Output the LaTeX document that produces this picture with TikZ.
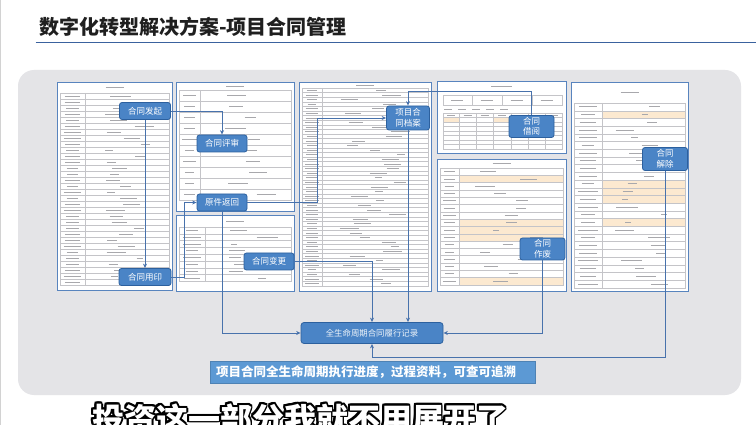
\documentclass[tikz,border=0pt]{standalone}
\usepackage{fontspec}
\usetikzlibrary{arrows.meta}
\newfontfamily\cjk{Noto Sans CJK SC}

\definecolor{panelgray}{RGB}{228,228,231}
\definecolor{formblue}{RGB}{88,132,190}
\definecolor{gridgray}{RGB}{196,196,200}
\definecolor{inkgray}{RGB}{168,168,172}
\definecolor{tagblue}{RGB}{74,132,198}
\definecolor{tagedge}{RGB}{44,96,158}
\definecolor{linkblue}{RGB}{72,114,172}
\definecolor{beige}{RGB}{252,233,208}
\definecolor{bannerblue}{RGB}{92,153,212}
\definecolor{ruleblue}{RGB}{58,98,158}

\tikzset{
  form/.style={draw=formblue, line width=0.9pt},
  grid/.style={draw=gridgray, line width=0.35pt},
  greek/.style={draw=inkgray, line width=0.75pt},
  tag/.style={draw=tagedge, fill=tagblue, line width=0.8pt, rounded corners=2.5pt,
    text=white, font=\cjk\fontsize{8.5}{10.5}\selectfont, inner sep=0pt, align=center},
  recbox/.style={draw=tagedge, fill=tagblue, line width=0.8pt, rounded corners=3pt,
    text=white!92!tagblue, font=\cjk\fontsize{8.4}{10}\selectfont, inner sep=0pt},
  link/.style={draw=linkblue, line width=0.85pt, -{Stealth[length=4.5pt,width=4pt]}},
  sub/.style={font=\cjk\bfseries\fontsize{32}{32}\selectfont, anchor=base west, inner sep=0pt},
}

% A paper form: frame, ruled table, label column and greeked entries.
% #1,#2 top left; #3,#4 bottom right; #5 first ruled line; #6 row height;
% #7 label column width; #8 extra cell fills
\newcommand\formsheet[8]{%
  \fill[white] (#1,#2) rectangle (#3,#4);
  #8
  \pgfmathtruncatemacro\nrows{floor((#4-3-(#5))/(#6))}
  \pgfmathsetmacro\tbot{#5+\nrows*#6}
  \draw[grid] ({#1+3},#5) rectangle ({#3-3},\tbot);
  \foreach \i in {1,...,\nrows}{\draw[grid] ({#1+3},{#5+\i*#6}) -- ({#3-3},{#5+\i*#6});}
  \draw[grid] ({#1+3+#7},#5) -- ({#1+3+#7},\tbot);
  \draw[greek] ({(#1+#3)/2-9},{(#2+#5)/2}) -- ({(#1+#3)/2+9},{(#2+#5)/2});
  \pgfmathtruncatemacro\nlast{\nrows-1}
  \foreach \i in {0,...,\nlast}{
    \pgfmathsetmacro\ym{#5+(\i+0.5)*#6}
    \pgfmathsetmacro\la{#7*(0.22+0.14*rnd)}
    \pgfmathsetmacro\lc{#1+3+#7/2}
    \draw[greek] ({\lc-\la},\ym) -- ({\lc+\la},\ym);
    \pgfmathsetmacro\va{3+8*rnd}
    \pgfmathsetmacro\vc{#1+3+#7+((#3-3)-(#1+3+#7))*(0.25+0.5*rnd)}
    \draw[greek] ({\vc-\va},\ym) -- ({\vc+\va},\ym);
  }
  \draw[form] (#1,#2) rectangle (#3,#4);
}

\begin{document}
\begin{tikzpicture}[x=1pt,y=-1pt]
\useasboundingbox (0,0) rectangle (756,425);
\clip (0,0) rectangle (756,425);
\fill[white] (0,0) rectangle (756,425);
\pgfmathsetseed{11}
\draw[gray!35, line width=1.2pt] (0.6,0) -- (0.6,425);

% heading
\node[anchor=west, inner sep=0pt, text=black!88, font=\cjk\bfseries\fontsize{20}{20}\selectfont]
  (title) at (39,27) {数字化转型解决方案-项目合同管理};
\draw[ruleblue, line width=1.6pt] (35.5,42.5) -- (756,42.5);

% grey panel
\fill[panelgray, rounded corners=16pt] (18,70) rectangle (741,395);

% forms
\formsheet{57}{82}{172}{290}{93}{6}{25}{}
\formsheet{176}{82}{294}{211}{90}{11}{21}{}
\formsheet{176}{215}{294}{291}{227}{6.8}{26}{}
\formsheet{299}{82}{431}{291}{88}{4.6}{20}{}
\formsheet{437}{159}{566}{291}{168}{7.3}{19}{%
  \fill[beige] (459,175.3) rectangle (563,182.6);
  \fill[beige] (459,219.1) rectangle (563,241);
  \fill[beige] (459,277.5) rectangle (563,284.8);}
\formsheet{571}{82}{688}{291}{103}{7.7}{28}{%
  \fill[beige] (602,110.7) rectangle (685,118.4);
  \fill[beige] (602,180) rectangle (685,203.1);
  \fill[beige] (602,218.5) rectangle (685,226.2);}

% borrowing register: header strip, options row and a ledger grid
\fill[white] (437,81) rectangle (566,153);
\draw[greek] (491,86) -- (512,86);
\draw[grid] (443,95) rectangle (562,105);
\foreach \x in {471.7,501.7,531.7} \draw[grid] (\x,95) -- (\x,105);
\foreach \x in {457,486.7,516.7,546.7} \draw[greek] (\x-6,100) -- (\x+6,100);
\foreach \x in {448,462,476,490,504} \draw[greek] (\x-4,109.3) -- (\x+4,109.3);
\fill[beige] (443,117.5) rectangle (459,122);
\fill[beige] (493,117.5) rectangle (511,122);
\draw[grid] (443,113) rectangle (562,149);
\foreach \y in {117.5,122,126.5,131,135.5,140,144.5} \draw[grid] (443,\y) -- (562,\y);
\foreach \x in {459,476,493,511,528,545} \draw[grid] (\x,113) -- (\x,149);
\foreach \x in {451,467.5,484.5,502,519.5,536.5,553.5} \draw[greek] (\x-4,115.3) -- (\x+4,115.3);
\draw[form] (437,81) rectangle (566,153);

% process steps
\node[tag, minimum width=51, minimum height=17] (fq) at (145,111) {合同发起};
\node[tag, minimum width=50, minimum height=17] (ps) at (222,143.5) {合同评审};
\node[tag, minimum width=50, minimum height=17] (fh) at (222,202.5) {原件返回};
\node[tag, minimum width=50, minimum height=17] (bg) at (269,261.5) {合同变更};
\node[tag, minimum width=52, minimum height=17] (yy) at (145,277) {合同用印};
\node[tag, minimum width=43, minimum height=24] (da) at (408,118) {项目合\\同档案};
\node[tag, minimum width=45, minimum height=22] (jy) at (531.5,126.5) {合同\\借阅};
\node[tag, minimum width=45, minimum height=22] (zf) at (542.5,249) {合同\\作废};
\node[tag, minimum width=45, minimum height=23] (jc) at (665,159) {合同\\解除};
\node[recbox, minimum width=142, minimum height=21] (rec) at (372,333) {全生命周期合同履行记录};
\coordinate (loop) at (665,357);

% flow
\draw[link] (fq) -| (ps);
\draw[link] (fq) -- (yy);
\draw[link] (yy.east) -- ++(13,0) |- (fh.west);
\draw[link] (fh.east) -- ++(70,0) |- (da.west);
\draw[link] (jy.north) -- ++(0,-24) -| (da.north);
\draw[link] (fh) |- (rec);
\draw[link] (bg) -| (rec);
\draw[link] (da) -- (da |- rec.north);
\draw[link] (zf) |- (rec);
\draw[link] (jc) -- (jc |- loop) -| (rec);

% summary banner
\node[fill=bannerblue, draw=bannerblue!85!black, line width=0.4pt, anchor=west,
  minimum width=325, minimum height=22, text width=313, inner xsep=6, inner ysep=0pt,
  align=left, text=white, font=\cjk\bfseries\fontsize{12.5}{14}\selectfont]
  (note) at (210,371.7) {项目合同全生命周期执行进度，过程资料，可查可追溯};

% outlined caption
\foreach \a in {0,22.5,...,337.5}
  \node[sub, text=black, xshift={1.8*cos(\a)}, yshift={1.8*sin(\a)}] at (92,431) {投资这一部分我就不用展开了};
\node[sub, text=white] (caption) at (92,431) {投资这一部分我就不用展开了};
\end{tikzpicture}
\end{document}
